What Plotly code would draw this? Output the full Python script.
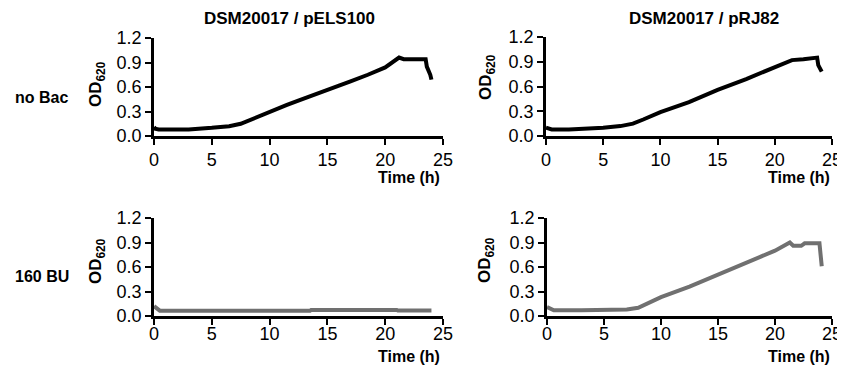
import plotly.graph_objects as go

# ---- data ----
t_nobac_pels = [0, 0.1, 0.4, 1, 3, 5, 6.5, 7.5, 8.5, 10, 11.5, 12.6, 14, 15.5, 17, 18.5, 20, 21.2, 21.6, 23.5, 23.6, 23.9, 24.0]
od_nobac_pels = [0.11, 0.09, 0.08, 0.08, 0.08, 0.10, 0.12, 0.15, 0.21, 0.30, 0.38, 0.44, 0.51, 0.59, 0.67, 0.75, 0.84, 0.96, 0.94, 0.94, 0.85, 0.75, 0.69]

t_nobac_prj = [0, 0.2, 0.5, 2, 4, 5, 6.5, 7.6, 8.5, 10, 12.5, 15, 17.5, 20, 21.5, 22.5, 23.7, 23.8, 24.1]
od_nobac_prj = [0.10, 0.09, 0.08, 0.08, 0.09, 0.10, 0.12, 0.15, 0.20, 0.29, 0.41, 0.56, 0.69, 0.83, 0.92, 0.93, 0.95, 0.86, 0.78]

t_bu_pels = [0, 0.2, 0.5, 13.5, 13.6, 21, 21.1, 24]
od_bu_pels = [0.12, 0.10, 0.065, 0.065, 0.075, 0.075, 0.068, 0.068]

t_bu_prj = [0, 0.2, 0.6, 3, 5, 7, 8, 10, 12.5, 15, 17.5, 20, 21.3, 21.6, 22.3, 22.6, 23.9, 24.0, 24.1]
od_bu_prj = [0.11, 0.10, 0.07, 0.07, 0.08, 0.08, 0.10, 0.23, 0.36, 0.51, 0.65, 0.80, 0.90, 0.86, 0.86, 0.89, 0.89, 0.70, 0.61]

col_titles = ["DSM20017 / pELS100", "DSM20017 / pRJ82"]
row_labels = ["no Bac", "160 BU"]
x_ticks = [0, 5, 10, 15, 20, 25]
y_ticks = [0.0, 0.3, 0.6, 0.9, 1.2]
y_tick_text = ["0.0", "0.3", "0.6", "0.9", "1.2"]

OFF = 8  # page body margin in the browser
W, H = 845 - OFF, 367 - OFF
FONT = "Liberation Sans, Arial, sans-serif"

def px(x):
    return (x - OFF) / W

def py(y):
    return 1 - (y - OFF) / H

# panel pixel boxes (screen coords): (x0, x1, ytop, ybottom)
panels = [
    (154, 443, 38, 136),
    (546, 832, 37, 136),
    (154, 443, 218, 316),
    (547, 832, 218, 316),
]
label_shift = [0, 0, -6, -6]

series = [
    (t_nobac_pels, od_nobac_pels, "black"),
    (t_nobac_prj, od_nobac_prj, "black"),
    (t_bu_pels, od_bu_pels, "#707070"),
    (t_bu_prj, od_bu_prj, "#707070"),
]

fig = go.Figure()
layout = {}
for i, ((x0, x1, yt, yb), (t, od, c)) in enumerate(zip(panels, series)):
    n = i + 1
    xa = "x" if n == 1 else f"x{n}"
    ya = "y" if n == 1 else f"y{n}"
    fig.add_trace(go.Scatter(x=t, y=od, mode="lines", xaxis=xa, yaxis=ya,
                             line=dict(color=c, width=4), showlegend=False,
                             hoverinfo="skip"))
    axis_common = dict(showgrid=False, zeroline=False, showline=True,
                       linecolor="black", linewidth=2.5, ticks="outside",
                       tickcolor="black", tickwidth=2, ticklen=6,
                       automargin=False, ticklabeloverflow="allow",
                       tickfont=dict(family=FONT, size=18, color="black"))
    layout["xaxis" if n == 1 else f"xaxis{n}"] = dict(
        domain=[px(x0), px(x1)], range=[0, 25], tickvals=x_ticks,
        anchor=ya, ticklabelstandoff=label_shift[i], **axis_common)
    layout["yaxis" if n == 1 else f"yaxis{n}"] = dict(
        domain=[py(yb), py(yt)], range=[0, 1.2], tickvals=y_ticks,
        ticktext=y_tick_text, anchor=xa, **axis_common)

fig.update_layout(**layout)

ann = []
# column titles
for txt, xc in zip(col_titles, [289, 704]):
    ann.append(dict(text=f"<b>{txt}</b>", x=px(xc), y=py(19), xref="paper", yref="paper",
                    showarrow=False, xanchor="center", yanchor="middle",
                    font=dict(family=FONT, size=17, color="black")))
# row labels
for txt, yc in zip(row_labels, [97, 276]):
    ann.append(dict(text=f"<b>{txt}</b>", x=px(13), y=py(yc), xref="paper", yref="paper",
                    showarrow=False, xanchor="left", yanchor="middle",
                    font=dict(family=FONT, size=16, color="black")))
# y axis titles
for xc, yc in [(97, 84), (487, 77), (97, 261), (486, 260)]:
    ann.append(dict(text="<b>OD<sub>620</sub></b>", x=px(xc), y=py(yc), xref="paper", yref="paper",
                    showarrow=False, xanchor="center", yanchor="middle", textangle=-90,
                    font=dict(family=FONT, size=17, color="black")))
# x axis titles
for xr, yc in [(442, 178), (832, 178), (442, 356), (832, 356)]:
    ann.append(dict(text="<b>Time (h)</b>", x=px(xr), y=py(yc), xref="paper", yref="paper",
                    showarrow=False, xanchor="right", yanchor="middle",
                    font=dict(family=FONT, size=16, color="black")))

fig.update_layout(annotations=ann, width=W, height=H, template="none",
                  margin=dict(l=0, r=0, t=0, b=0, autoexpand=False),
                  paper_bgcolor="white", plot_bgcolor="white")

fig.write_html("out.html")
